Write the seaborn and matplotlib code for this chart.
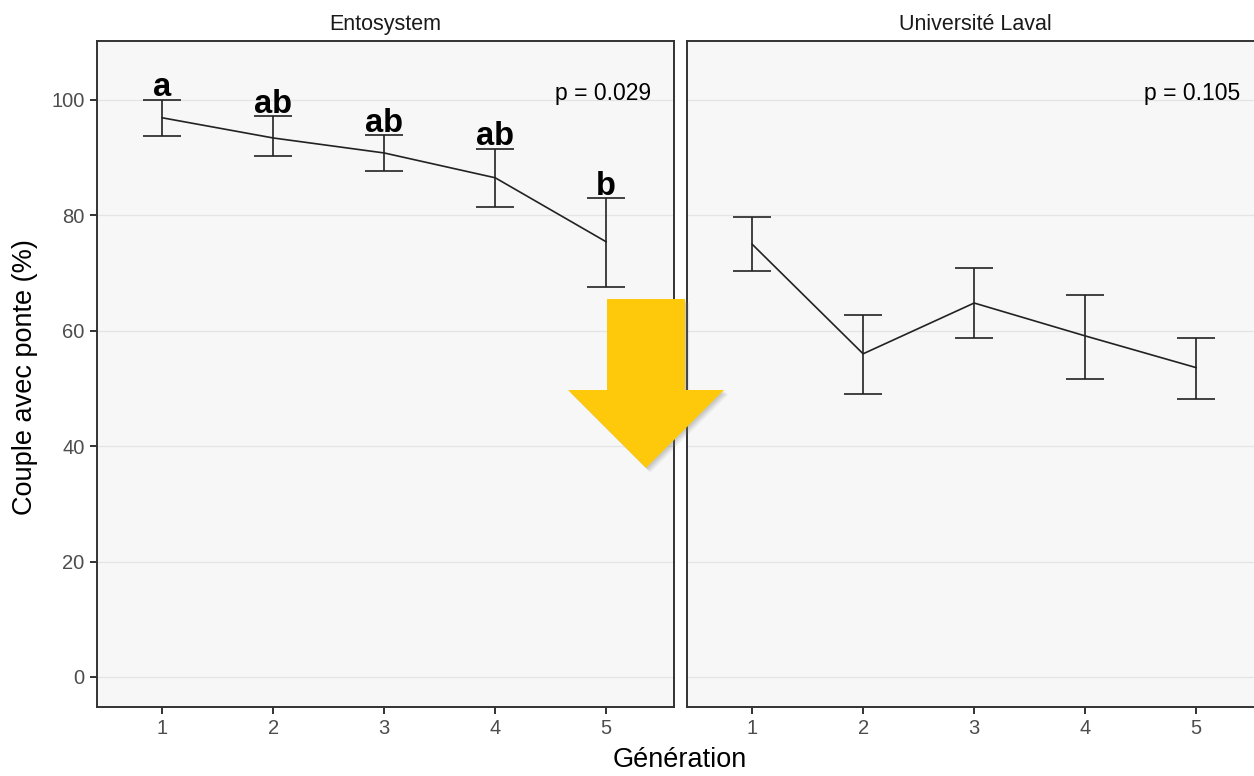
import numpy as np
import pandas as pd
import matplotlib
matplotlib.use("Agg")
import matplotlib.pyplot as plt
import matplotlib.patheffects as pe
from matplotlib.patches import Polygon
import seaborn as sns

# Percentage of couples that laid eggs, per generation, at each rearing site
generations = [1, 2, 3, 4, 5]
sites = ["Entosystem", "Université Laval"]

ento_mean = [96.9, 93.4, 90.8, 86.5, 75.4]
ento_upper = [100.0, 97.2, 93.9, 91.5, 83.0]
ento_lower = [93.8, 90.3, 87.7, 81.5, 67.6]
ento_letters = ["a", "ab", "ab", "ab", "b"]

laval_mean = [75.0, 56.0, 64.8, 59.1, 53.6]
laval_upper = [79.7, 62.7, 70.9, 66.2, 58.8]
laval_lower = [70.4, 49.0, 58.8, 51.6, 48.2]

p_values = ["p = 0.029", "p = 0.105"]
y_ticks = [0, 20, 40, 60, 80, 100]

df = pd.DataFrame({
    "site": [sites[0]] * 5 + [sites[1]] * 5,
    "generation": generations * 2,
    "mean": ento_mean + laval_mean,
    "upper": ento_upper + laval_upper,
    "lower": ento_lower + laval_lower,
})

sns.set_theme(style="ticks")
plt.rcParams["font.family"] = ["Liberation Sans", "DejaVu Sans"]

W, H = 1254, 776
fig = plt.figure(figsize=(W / 100, H / 100), dpi=100)

panel_w = 577 / W
panel_h = 666 / H
bottom = 1 - 707 / H
lefts = [97 / W, 687 / W]

dark = "#333333"
tick_col = "#4d4d4d"

axes = []
for i, site in enumerate(sites):
    ax = fig.add_axes([lefts[i], bottom, panel_w, panel_h])
    axes.append(ax)
    ax.set_facecolor("#f7f7f7")
    sub = df[df["site"] == site]

    for yv in y_ticks:
        ax.axhline(yv, color="#e4e4e4", lw=0.9, zorder=0)

    ax.errorbar(sub["generation"], sub["mean"],
                yerr=[sub["mean"] - sub["lower"], sub["upper"] - sub["mean"]],
                fmt="none", ecolor="#222222", elinewidth=1.2,
                capsize=13.5, capthick=1.2, zorder=3)
    sns.lineplot(data=sub, x="generation", y="mean", ax=ax,
                 color="#222222", lw=1.2, zorder=3, legend=False)

    ax.set_xlim(0.414, 5.61)
    ax.set_ylim(-5.2, 110.2)
    ax.set_xticks(generations)
    ax.set_xticklabels([str(g) for g in generations])
    ax.set_xlabel("")
    ax.set_ylabel("")
    for s in ax.spines.values():
        s.set_color(dark)
        s.set_linewidth(1.4)
        s.set_visible(True)
    ax.tick_params(axis="x", colors=dark, labelcolor=tick_col,
                   labelsize=14.5, length=5, width=1.4, pad=4)
    if i == 0:
        ax.set_yticks(y_ticks)
        ax.tick_params(axis="y", colors=dark, labelcolor=tick_col,
                       labelsize=14.5, length=5, width=1.4, pad=4)
    else:
        ax.set_yticks(y_ticks)
        ax.tick_params(axis="y", length=0, labelleft=False)

    ax.text(5.4, 100, p_values[i], ha="right", va="baseline",
            fontsize=16.5, color="black")
    ax.set_title(site, fontsize=15.5, color="#1a1a1a", pad=8)

# Significance letters above the Entosystem error bars
for g, up, lab in zip(generations, ento_upper, ento_letters):
    axes[0].text(g, up + 0.6, lab, ha="center", va="baseline",
                 fontsize=23.5, fontweight="bold", color="black")

fig.text(680 / W, 1 - 760 / H, "Génération", ha="center", va="center",
         fontsize=19.5, color="black")
fig.text(25 / W, 1 - 377 / H, "Couple avec ponte (%)", ha="center",
         va="center", rotation=90, fontsize=19.5, color="black")

# Yellow downward arrow overlay with a soft drop shadow
arrow_px = [(607, 299), (685, 299), (685, 390), (724, 390),
            (646, 468), (568, 390), (607, 390)]
arrow_pts = [(x / W, 1 - y / H) for x, y in arrow_px]
arrow = Polygon(arrow_pts, closed=True, transform=fig.transFigure,
                facecolor="#FFC90B", edgecolor="none", zorder=10)
arrow.set_path_effects([
    pe.SimplePatchShadow(offset=(3, -3), shadow_rgbFace="#777777", alpha=0.12),
    pe.SimplePatchShadow(offset=(2, -2), shadow_rgbFace="#777777", alpha=0.15),
    pe.SimplePatchShadow(offset=(1, -1), shadow_rgbFace="#777777", alpha=0.15),
    pe.Normal(),
])
fig.add_artist(arrow)

fig.savefig("out.png", dpi=100)
